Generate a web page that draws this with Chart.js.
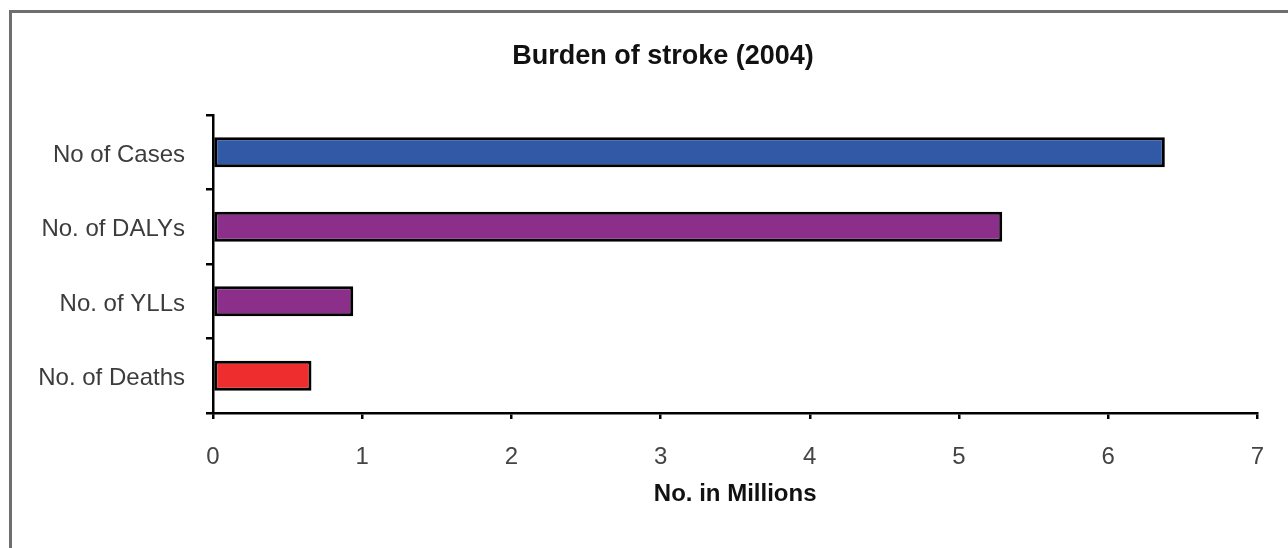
<!DOCTYPE html>
<html>
<head>
<meta charset="utf-8">
<script src="https://cdn.jsdelivr.net/npm/chart.js@4"></script>
<style>
  html, body { margin: 0; padding: 0; background: #fff; }
  #wrap { position: relative; width: 1288px; height: 548px; overflow: hidden; }
  #frame { position: absolute; left: 9px; top: 10px; width: 1400px; height: 700px;
           border-left: 3px solid #6e6e6e; border-top: 3px solid #6e6e6e; }
  canvas { position: absolute; left: 0; top: 0; }
</style>
</head>
<body>
<div id="wrap">
  <div id="frame"></div>
  <canvas id="chart" width="1288" height="548"></canvas>
</div>
<script>
// values in millions
const categories = ["No of Cases", "No. of DALYs", "No. of YLLs", "No. of Deaths"];
const values = [6.38, 5.29, 0.94, 0.66];
const barColors = ["#3159a6", "#8b2f8b", "#8b2f8b", "#ee2d2f"];
const xMin = 0;
const xMax = 7;

const fontFamily = "'Liberation Sans', Arial, sans-serif";

// the title in the original sits a bit right of the canvas centre
const shiftTitle = {
    id: "shiftTitle",
    afterLayout(chart) {
        if (chart.titleBlock) {
            chart.titleBlock.left = 66;
            chart.titleBlock.right = 1260;
            chart.titleBlock.width = 1260 - 66;
        }
    }
};

new Chart(document.getElementById("chart"), {
    type: "bar",
    data: {
        labels: categories,
        datasets: [{
            data: values,
            backgroundColor: barColors,
            borderColor: "#000",
            borderWidth: 3,
            borderSkipped: false,
            barPercentage: 0.4,
            categoryPercentage: 1.0
        }]
    },
    options: {
        indexAxis: "y",
        responsive: false,
        animation: false,
        layout: { padding: { left: 0, right: 28, top: 0, bottom: 0 } },
        plugins: {
            legend: { display: false },
            tooltip: { enabled: false },
            title: {
                display: true,
                text: "Burden of stroke (2004)",
                color: "#111",
                font: { family: fontFamily, size: 27, weight: "bold" },
                padding: { top: 40, bottom: 42.6 }
            }
        },
        scales: {
            x: {
                min: xMin,
                max: xMax,
                ticks: {
                    stepSize: 1,
                    color: "#444",
                    padding: 24,
                    font: { family: fontFamily, size: 24 }
                },
                grid: {
                    drawOnChartArea: false,
                    drawTicks: true,
                    tickLength: 6,
                    color: "#000",
                    lineWidth: 2.5
                },
                border: { color: "#000", width: 2.5 },
                title: {
                    display: true,
                    text: "No. in Millions",
                    color: "#111",
                    font: { family: fontFamily, size: 24, weight: "bold" },
                    padding: { top: 0, bottom: 39.6 }
                },
                afterFit: scale => { scale.height = 135; }
            },
            y: {
                ticks: {
                    color: "#3c3c3c",
                    padding: 21,
                    labelOffset: 3,
                    font: { family: fontFamily, size: 24 }
                },
                grid: {
                    drawOnChartArea: false,
                    drawTicks: true,
                    tickLength: 7,
                    color: "#000",
                    lineWidth: 2.5
                },
                border: { color: "#000", width: 2.5 },
                afterFit: scale => { scale.width = 213; }
            }
        }
    },
    plugins: [shiftTitle]
});
</script>
</body>
</html>
